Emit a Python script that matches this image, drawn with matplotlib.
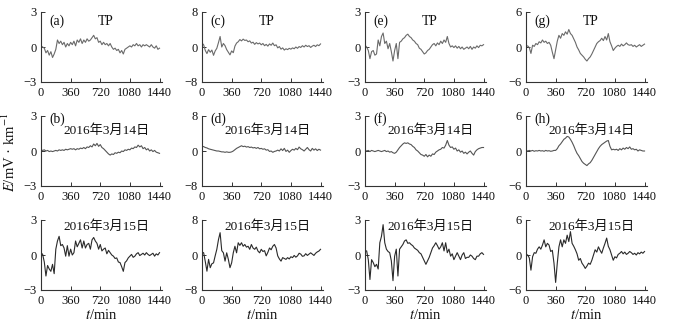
import numpy as np
import matplotlib
matplotlib.use("Agg")
import matplotlib.pyplot as plt

plt.rcParams['font.family'] = ['Liberation Serif', 'Noto Sans CJK SC']
plt.rcParams['mathtext.fontset'] = 'stix'
plt.rcParams['axes.unicode_minus'] = True

# time axis (minutes), 20-min samples
minutes = list(range(0, 1441, 20))

# ---- row 1: TP ----
tp_a = [0.1, 0.0, -0.1, -0.5, -0.3, -0.7, -0.4, -0.9, -0.6,
        -0.2, 0.6, 0.3, 0.5, 0.2, 0.4, 0.0, 0.3, 0.1,
        0.4, 0.2, 0.5, 0.1, 0.6, 0.4, 0.7, 0.3, 0.6,
        0.4, 0.7, 0.5, 0.6, 0.8, 1.0, 0.7, 0.8, 0.4,
        0.5, 0.2, 0.4, 0.2, 0.3, 0.1, 0.3, 0.0, -0.2,
        -0.1, -0.3, -0.2, -0.5, -0.3, -0.6, -0.2, -0.1, 0.0,
        0.1, 0.0, 0.2, 0.1, 0.3, 0.1, 0.2, 0.0, 0.2,
        0.1, 0.2, 0.1, 0.0, 0.2, 0.0, -0.1, 0.1, -0.2,
        -0.1]
tp_c = [0.9, 0.5, -0.8, -1.5, -0.6, -1.2, -0.7, -1.9, -0.9,
        -0.3, 1.0, 2.4, 0.0, 0.8, 0.3, -0.6, -1.2, -1.8,
        -0.9, -1.3, 0.2, 0.9, 1.2, 1.7, 1.4, 1.8, 1.5,
        1.6, 1.2, 1.4, 0.9, 1.1, 0.6, 1.0, 0.7, 0.9,
        0.5, 0.8, 0.3, 0.6, 0.2, 0.7, 0.4, 0.9, 0.3,
        0.5, -0.2, 0.1, -0.5, -0.2, -0.7, -0.4, -0.6, -0.3,
        -0.5, -0.2, -0.4, 0.0, -0.3, 0.1, -0.1, 0.3, 0.0,
        0.4, 0.1, 0.3, -0.1, 0.2, 0.4, 0.1, 0.5, 0.3,
        0.7]
tp_e = [0.15, 0.0, -0.3, -1.0, -0.4, -0.3, -0.7, -0.6, 0.6,
        0.1, 0.9, 1.2, 0.3, 0.5, -0.15, 0.3, -0.4, -1.2,
        -0.3, 0.3, -1.0, 0.4, 0.5, 0.7, 0.8, 1.0, 1.1,
        0.9, 0.8, 0.6, 0.5, 0.3, 0.2, -0.1, -0.2, -0.4,
        -0.6, -0.5, -0.3, -0.2, 0.0, 0.2, 0.3, 0.1, 0.35,
        0.2, 0.5, 0.3, 0.6, 0.4, 0.9, 0.3, 0.0, 0.1,
        -0.05, 0.1, -0.1, 0.05, -0.15, 0.0, -0.2, -0.1, 0.0,
        -0.15, 0.05, -0.2, 0.0, -0.1, 0.1, -0.05, 0.15, 0.1,
        0.2]
tp_g = [0.1, 0.2, -0.1, -1.1, 0.3, 0.1, 0.6, 0.4, 0.9,
        0.7, 1.2, 0.8, 1.0, 0.6, 0.8, 0.3, -0.9, -2.0,
        -0.5, 1.0, 2.0, 1.5, 2.3, 2.0, 2.6, 2.2, 3.0,
        2.3, 2.0, 1.4, 0.8, 0.0, -0.5, -1.1, -1.4, -1.7,
        -2.1, -2.4, -2.0, -1.7, -1.2, -0.6, 0.0, 0.6, 0.9,
        1.1, 1.5, 1.1, 1.8, 1.2, 2.3, 0.9, 0.2, -0.6,
        -0.2, 0.1, 0.3, 0.1, 0.5, 0.2, 0.4, 0.7, 0.4,
        0.3, 0.4, 0.1, 0.3, 0.0, 0.2, 0.4, 0.1, 0.3,
        0.5]

# ---- row 2: 2016-03-14 ----
d14_b = [0.1, 0.05, 0.1, 0.0, 0.05, -0.05, 0.0, -0.05, 0.0,
         0.05, 0.0, 0.1, 0.05, 0.1, 0.05, 0.15, 0.1, 0.15,
         0.2, 0.15, 0.2, 0.1, 0.2, 0.15, 0.25, 0.2, 0.3,
         0.2, 0.35, 0.3, 0.45, 0.35, 0.6, 0.45, 0.65, 0.4,
         0.55, 0.3, 0.2, 0.05, -0.1, -0.25, -0.35, -0.25, -0.3,
         -0.15, -0.2, -0.1, -0.15, 0.0, -0.05, 0.1, 0.05, 0.15,
         0.1, 0.25, 0.2, 0.35, 0.3, 0.5, 0.35, 0.45, 0.2,
         0.3, 0.1, 0.2, 0.0, 0.1, -0.05, 0.05, -0.1, -0.15,
         -0.2]
d14_d = [1.1, 1.0, 0.8, 0.7, 0.5, 0.4, 0.3, 0.2, 0.1,
         0.0, 0.0, -0.1, -0.2, -0.2, -0.3, -0.2, -0.3, -0.3,
         -0.2, 0.0, 0.3, 0.6, 0.8, 1.0, 1.2, 1.0, 1.1,
         0.9, 1.0, 0.8, 0.9, 0.7, 0.8, 0.6, 0.8, 0.5,
         0.6, 0.4, 0.5, 0.2, 0.3, -0.1, 0.0, -0.3, -0.1,
         0.0, 0.2, 0.0, 0.5, 0.1, 0.6, -0.1, 0.2, -0.3,
         0.1, 0.4, 0.2, 0.6, 0.3, 0.9, 0.5, 0.3, 0.0,
         0.4, 0.8, 0.3, 0.0, 0.6, 0.2, 0.5, 0.1, 0.4,
         0.2]
d14_f = [0.05, 0.0, 0.05, -0.05, 0.05, 0.0, -0.05, 0.0, 0.05,
         0.0, -0.05, 0.0, 0.05, -0.05, 0.0, -0.1, -0.05, -0.15,
         -0.2, -0.1, 0.1, 0.3, 0.45, 0.6, 0.7, 0.65, 0.7,
         0.6, 0.55, 0.4, 0.3, 0.1, 0.0, -0.15, -0.3, -0.35,
         -0.45, -0.3, -0.5, -0.35, -0.45, -0.25, -0.3, -0.1, 0.0,
         0.1, 0.15, 0.3, 0.25, 0.5, 0.9, 0.5, 0.3, 0.35,
         0.15, 0.25, 0.0, 0.1, -0.1, 0.0, -0.2, -0.1, -0.25,
         -0.1, 0.0, -0.2, -0.35, -0.05, 0.1, 0.2, 0.25, 0.3,
         0.3]
d14_h = [0.1, 0.0, 0.1, 0.0, 0.1, -0.05, 0.05, 0.0, 0.1,
         0.0, 0.05, -0.05, 0.1, 0.0, 0.05, -0.05, 0.0, 0.1,
         0.1, 0.4, 0.9, 1.2, 1.6, 2.0, 2.2, 2.5, 2.4,
         2.0, 1.5, 0.9, 0.2, -0.4, -0.8, -1.3, -1.8, -2.1,
         -2.3, -2.5, -2.2, -2.0, -1.6, -1.1, -0.6, -0.1, 0.4,
         0.8, 1.1, 1.3, 1.5, 1.7, 1.8, 0.8, 0.2, 0.3,
         0.2, 0.3, 0.1, 0.4, 0.2, 0.5, 0.3, 0.6, 0.4,
         0.7, 0.3, 0.4, 0.2, 0.3, 0.0, 0.2, 0.1, 0.0,
         0.0]

# ---- row 3: 2016-03-15 ----
d15_1 = [0.2, 0.05, -0.6, -1.8, -0.9, -1.2, -1.4, -0.8, -1.6,
         0.5, 1.2, 1.6, 0.8, 0.9, 0.6, -0.1, 0.8, -0.1,
         0.5, 0.0, 0.2, 1.2, 0.7, 1.0, 1.3, 0.6, 1.2,
         0.6, 0.9, 1.0, 0.5, 1.3, 1.5, 1.2, 1.0, 0.5,
         0.9, 0.35, 0.5, 0.6, 0.1, 0.4, 0.2, 0.0, -0.1,
         -0.3, -0.25, -0.6, -0.65, -1.0, -1.4, -0.65, -0.5, -0.25,
         -0.1, 0.05, -0.2, -0.1, 0.1, 0.2, -0.05, 0.05, 0.15,
         0.0, 0.2, 0.05, -0.05, 0.05, 0.15, -0.1, 0.1, 0.0,
         0.2]
d15_2 = [0.7, 0.5, -1.5, -3.7, -1.0, -2.9, -2.0, -1.8, -0.2,
         1.3, 3.5, 5.1, 1.0, 0.5, -1.4, 0.5, -1.0, -2.9,
         -1.8, 0.5, 2.0, 0.5, 2.8, 2.2, 2.8, 2.0, 2.4,
         1.8, 2.0, 1.3, 2.4, 1.6, 1.3, 1.8, 0.9, 0.5,
         1.3, 0.8, 1.0, -0.2, 0.6, 1.6, 1.2, 2.0, 2.4,
         1.6, -0.2, -0.9, -1.4, -0.6, -0.8, -1.0, -0.6, -0.9,
         -0.4, -0.6, -0.1, -0.5, -0.2, 0.4, 0.2, -0.3, -0.2,
         0.3, -0.1, 0.2, 0.5, 0.2, -0.1, 0.4, 0.7, 0.9,
         1.3]
d15_3 = [0.35, 0.35, -0.4, -2.1, -0.4, -0.65, -1.0, -0.8, -1.2,
         1.05, 1.6, 2.6, 1.05, 0.5, 0.3, 0.2, -0.5, -2.2,
         -0.1, 0.5, -1.8, 0.5, 0.7, 0.9, 1.2, 1.3, 1.0,
         1.05, 0.9, 0.8, 0.6, 0.5, 0.4, 0.2, 0.1, -0.2,
         -0.5, -0.8, -0.5, -0.2, 0.2, 0.6, 0.8, 1.05, 0.8,
         0.5, 0.7, 1.05, 0.35, 1.05, 0.2, 0.5, -0.1, 0.1,
         -0.4, -0.1, 0.2, -0.1, -0.4, 0.0, 0.2, -0.3, -0.2,
         -0.2, 0.0, -0.1, -0.3, -0.4, -0.1, -0.1, 0.1, 0.2,
         0.05]
d15_4 = [0.1, 0.0, -0.5, -2.6, -0.3, 0.4, 0.3, 1.0, 1.4,
         1.0, 1.7, 2.6, 1.4, 2.0, 1.7, 0.6, 0.8, -1.4,
         -4.7, -1.4, 1.4, 2.6, 1.4, 2.6, 2.0, 3.4, 2.3,
         4.0, 2.0, 1.5, 0.9, 0.2, -0.9, -0.6, -1.4, -1.8,
         -2.3, -1.9, -1.4, -1.6, -0.9, 0.0, 0.9, 0.5, 1.4,
         0.8, 0.3, 1.2, 2.0, 2.9, 1.5, 0.9, 0.0, -0.9,
         -0.3, -0.5, 0.1, 0.3, 0.6, 0.2, 0.5, 0.1, 0.3,
         0.6, 0.4, 0.1, 0.3, 0.0, 0.4, 0.2, 0.5, 0.3,
         0.6]

col_limits = [3, 8, 3, 6]
x_ticks = [0, 360, 720, 1080, 1440]
panel_letters = [["(a)", "(c)", "(e)", "(g)"],
                 ["(b)", "(d)", "(f)", "(h)"],
                 [None, None, None, None]]
row_titles = ["TP", "2016年3月14日", "2016年3月15日"]
series = [[tp_a, tp_c, tp_e, tp_g],
          [d14_b, d14_d, d14_f, d14_h],
          [d15_1, d15_2, d15_3, d15_4]]
row_colors = ["#6a6a6a", "#555555", "#2a2a2a"]

W, H = 684, 327
fig = plt.figure(figsize=(W / 100, H / 100), dpi=100)

col_left_px = [41, 202, 365, 526]
row_top_px = [12, 116, 220]
ax_w_px, ax_h_px = 121, 70

tick_fs = 9
txt_fs = 9.8
cjk = ['Liberation Serif', 'Noto Sans CJK SC']
for r in range(3):
    for c in range(4):
        left = col_left_px[c] / W
        bottom = 1 - (row_top_px[r] + ax_h_px) / H
        ax = fig.add_axes([left, bottom, ax_w_px / W, ax_h_px / H])
        lim = col_limits[c]
        ax.plot(minutes, series[r][c], color=row_colors[r], lw=0.8)
        ax.set_xlim(0, 1470)
        ax.set_ylim(-lim, lim)
        ax.set_xticks(x_ticks)
        ax.set_yticks([-lim, 0, lim])
        ax.set_yticklabels([f"\u2212{lim}", "0", f"{lim}"])
        for s in ["top", "right"]:
            ax.spines[s].set_visible(False)
        for s in ["left", "bottom"]:
            ax.spines[s].set_color("#333333")
            ax.spines[s].set_linewidth(0.8)
        ax.tick_params(direction="in", length=3, width=0.7, colors="#333333",
                       labelsize=tick_fs, labelcolor="#111111")
        ax.tick_params(axis="x", pad=3.5)
        ax.tick_params(axis="y", pad=3)
        ax.set_facecolor("none")
        letter = panel_letters[r][c]
        if r == 0:
            ax.text(0.07, 0.87, letter, transform=ax.transAxes, fontsize=txt_fs,
                    va="center", ha="left", color="#111111")
            ax.text(0.53, 0.87, row_titles[r], transform=ax.transAxes,
                    fontsize=txt_fs, va="center", ha="center", color="#111111")
        elif r == 1:
            ax.text(0.07, 0.95, letter, transform=ax.transAxes, fontsize=txt_fs,
                    va="center", ha="left", color="#111111")
            ax.text(0.54, 0.79, row_titles[r], transform=ax.transAxes,
                    fontsize=9.5, va="center", ha="center", color="#111111",
                    family=cjk)
        else:
            ax.text(0.54, 0.91, row_titles[r], transform=ax.transAxes,
                    fontsize=9.5, va="center", ha="center", color="#111111",
                    family=cjk)
            ax.set_xlabel(r"$t$/min", fontsize=10.5, labelpad=1, color="#111111")

fig.text(9 / W, 1 - 152 / H, r"$E$/mV · km$^{-1}$", rotation=90,
         ha="center", va="center", fontsize=10.5, color="#111111")

fig.savefig("out.png", dpi=100, facecolor="white")
